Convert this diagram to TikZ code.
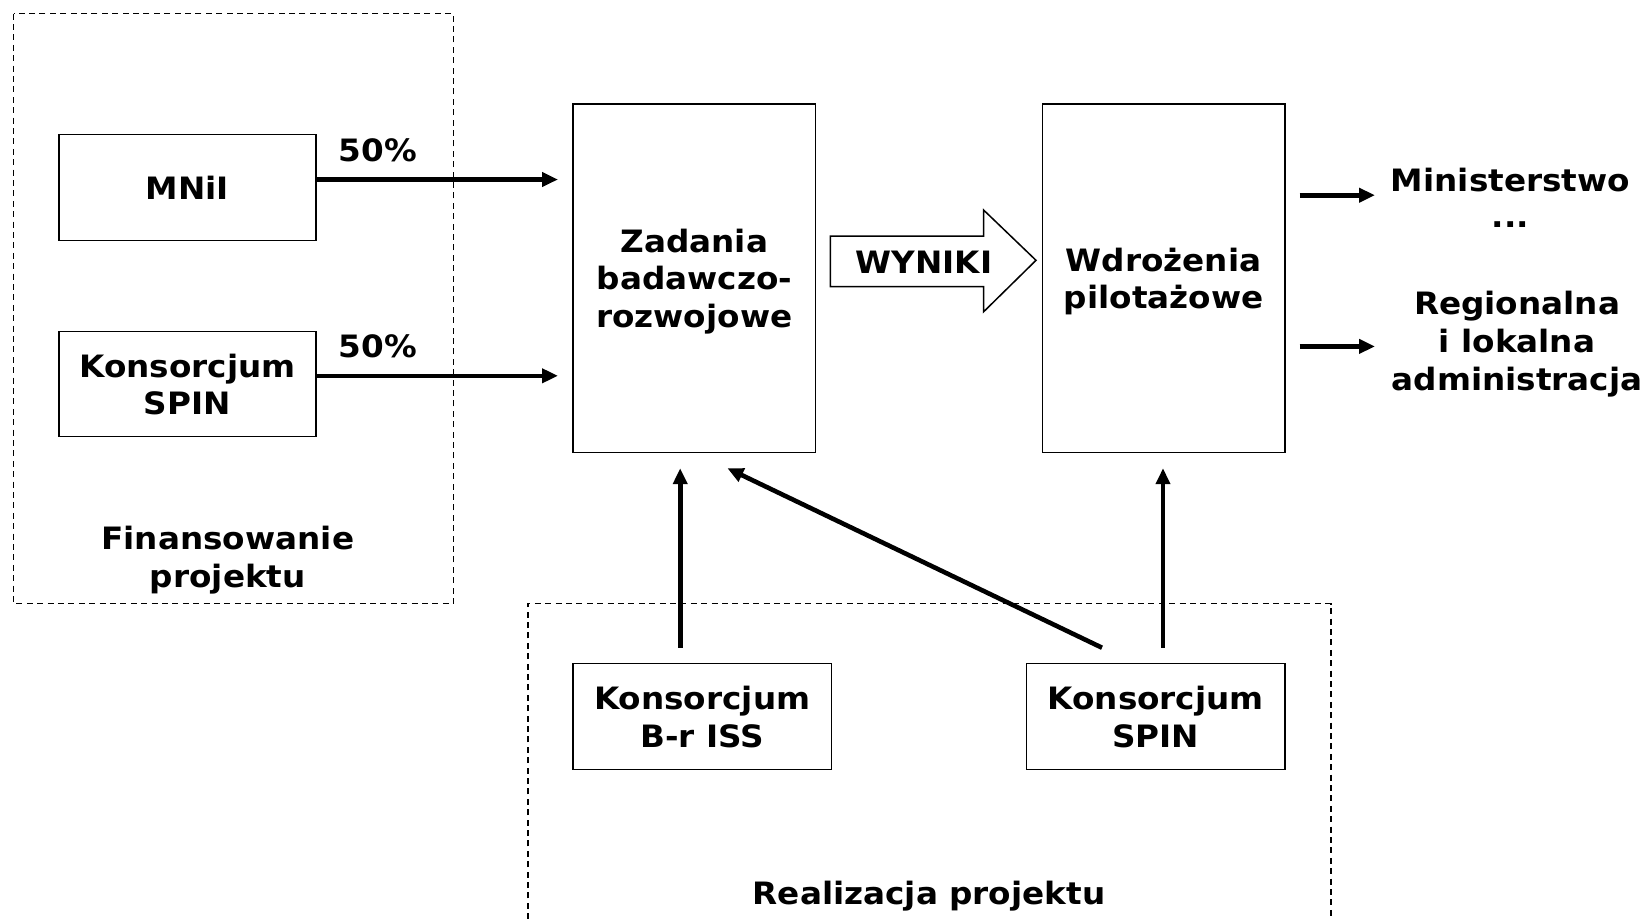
\documentclass[tikz,border=0pt]{standalone}
\usepackage{fontspec}
\setmainfont{DejaVu Sans}[FakeStretch=1.06]
\usetikzlibrary{arrows.meta,calc}
\begin{document}
\begin{tikzpicture}[x=0.5pt,y=-0.5pt,
  font=\fontsize{15.4pt}{18.9pt}\selectfont\bfseries,
  box/.style={draw,line width=0.75pt,align=center,inner sep=0pt,text depth=0pt},
  lbl/.style={align=center,inner sep=0pt,text depth=0pt},
  region/.style={draw,dashed,line width=0.6pt,dash pattern=on 3pt off 2.2pt},
  conn/.style={line width=2.3pt,-{Triangle[length=8pt,width=7pt]}}]
\useasboundingbox (0,0) rectangle (1646,918);
% regions
\draw[region] (13.6,13.6) rectangle (453.5,603.6);
\draw[region] (528,940) -- (528,603.6) -- (1331,603.6) -- (1331,940);
% boxes
\node[box,minimum width=128.6pt,minimum height=53pt] (mnii) at (187.4,187.4) {MNiI};
\node[box,minimum width=128.6pt,minimum height=52.5pt] (spinl) at (187.4,384.2) {Konsorcjum\\SPIN};
\node[box,minimum width=121.3pt,minimum height=174.2pt] (zad) at (694.3,278.2) {Zadania\\badawczo-\\rozwojowe};
\node[box,minimum width=121.3pt,minimum height=174.2pt] (wdr) at (1163.6,278.2) {Wdrożenia\\pilotażowe};
\node[box,minimum width=129.2pt,minimum height=53pt] (brs) at (702.2,716.4) {Konsorcjum\\B-r ISS};
\node[box,minimum width=129.2pt,minimum height=53pt] (spinb) at (1155.7,716.4) {Konsorcjum\\SPIN};
% labels
\node[lbl] (p1) at (378,150) {50\%};
\node[lbl] (p2) at (378,346) {50\%};
\node[lbl] (fin) at (227.8,557) {Finansowanie\\projektu};
\node[lbl] (real) at (929,893) {Realizacja projektu};
\node[lbl] (min) at (1510.5,180) {Ministerstwo};
\node[lbl] (dots) at (1510.5,225) {...};
\node[lbl] (reg) at (1517,341) {Regionalna\\i lokalna\\administracja};
% WYNIKI arrow
\draw[line width=0.75pt] (830.3,236) -- (983.6,236) -- (983.6,210) -- (1036,260.3)
  -- (983.6,311.8) -- (983.6,286.6) -- (830.3,286.6) -- cycle;
\node[lbl] (wyn) at (924,262) {WYNIKI};
% connectors
\coordinate (e1) at (558,179.5);
\coordinate (e2) at (558,375.8);
\draw[conn] (mnii.east |- e1) -- (e1);
\draw[conn] (spinl.east |- e2) -- (e2);
\coordinate (o1s) at (1299.6,195.2);
\coordinate (o1e) at (1375,195.2);
\coordinate (o2s) at (1299.6,346.4);
\coordinate (o2e) at (1375,346.4);
\draw[conn] (o1s) -- (o1e);
\draw[conn] (o2s) -- (o2e);
\coordinate (u1s) at (680.2,647.7);
\coordinate (u1e) at (680.2,468.2);
\coordinate (u2s) at (1163,647.7);
\coordinate (u2e) at (1163,468.2);
\coordinate (dgs) at (1102,647.7);
\coordinate (dge) at (727.4,468.2);
\draw[conn] (u1s) -- (u1e);
\draw[conn] (u2s) -- (u2e);
\draw[conn] (dgs) -- (dge);
\end{tikzpicture}
\end{document}
